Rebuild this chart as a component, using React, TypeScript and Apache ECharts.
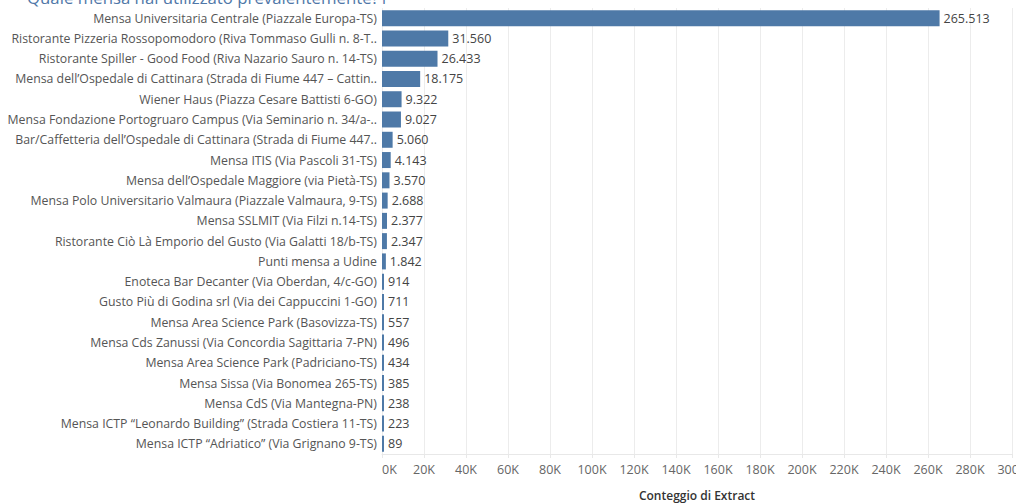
import React, { useEffect, useRef } from "react";
import * as echarts from "echarts";

const categories = [
  "Mensa Universitaria Centrale (Piazzale Europa-TS)",
  "Ristorante Pizzeria Rossopomodoro (Riva Tommaso Gulli n. 8-T..",
  "Ristorante Spiller - Good Food (Riva Nazario Sauro n. 14-TS)",
  "Mensa dell’Ospedale di Cattinara (Strada di Fiume 447 – Cattin..",
  "Wiener Haus (Piazza Cesare Battisti 6-GO)",
  "Mensa Fondazione Portogruaro Campus (Via Seminario n. 34/a-..",
  "Bar/Caffetteria dell’Ospedale di Cattinara (Strada di Fiume 447..",
  "Mensa ITIS (Via Pascoli 31-TS)",
  "Mensa dell’Ospedale Maggiore (via Pietà-TS)",
  "Mensa Polo Universitario Valmaura (Piazzale Valmaura, 9-TS)",
  "Mensa SSLMIT (Via Filzi n.14-TS)",
  "Ristorante Ciò Là Emporio del Gusto (Via Galatti 18/b-TS)",
  "Punti mensa a Udine",
  "Enoteca Bar Decanter (Via Oberdan, 4/c-GO)",
  "Gusto Più di Godina srl (Via dei Cappuccini 1-GO)",
  "Mensa Area Science Park (Basovizza-TS)",
  "Mensa Cds Zanussi (Via Concordia Sagittaria 7-PN)",
  "Mensa Area Science Park (Padriciano-TS)",
  "Mensa Sissa (Via Bonomea 265-TS)",
  "Mensa CdS (Via Mantegna-PN)",
  "Mensa ICTP “Leonardo Building” (Strada Costiera 11-TS)",
  "Mensa ICTP “Adriatico” (Via Grignano 9-TS)",
];

const counts = [
  265513, 31560, 26433, 18175, 9322, 9027, 5060, 4143, 3570, 2688, 2377, 2347,
  1842, 914, 711, 557, 496, 434, 385, 238, 223, 89,
];

const titleText = "Quale mensa hai utilizzato prevalentemente?1";
const axisTitle = "Conteggio di Extract";

const FONT = "Open Sans";

function fmtIt(n: number): string {
  return String(n).replace(/\B(?=(\d{3})+(?!\d))/g, ".");
}

export default function App() {
  const ref = useRef<HTMLDivElement>(null);
  useEffect(() => {
    if (!ref.current) return;
    const chart = echarts.init(ref.current, undefined, { renderer: "svg" });
    chart.setOption({
      animation: false,
      backgroundColor: "#ffffff",
      textStyle: { fontFamily: FONT },
      graphic: [
        {
          type: "text",
          left: 27,
          top: -11,
          style: {
            text: titleText,
            fill: "#4f77a8",
            font: `16.8px ${FONT}`,
          },
        },
      ],
      grid: {
        left: 382,
        top: 8,
        width: 630,
        height: 446,
        containLabel: false,
        outerBoundsMode: "none",
      },
      xAxis: {
        type: "value",
        min: 0,
        max: 300000,
        interval: 20000,
        axisLine: { show: true, lineStyle: { color: "#e8e8e8" } },
        axisTick: { show: true, length: 4, lineStyle: { color: "#e8e8e8" } },
        splitLine: { show: true, lineStyle: { color: "#ececec", width: 1 } },
        axisLabel: {
          formatter: (v: number) => `${v / 1000}K`,
          color: "#666666",
          fontSize: 12.5,
          fontFamily: FONT,
          margin: 9,
          alignMinLabel: "left",
        },
        name: axisTitle,
        nameLocation: "middle",
        nameGap: 35,
        nameTextStyle: {
          color: "#333333",
          fontSize: 12,
          fontWeight: 600,
          fontFamily: FONT,
        },
      },
      yAxis: {
        type: "category",
        data: categories,
        inverse: true,
        axisLine: { show: false },
        axisTick: { show: false },
        splitLine: { show: false },
        axisLabel: {
          color: "#555555",
          fontSize: 12.3,
          fontFamily: FONT,
          margin: 5,
        },
      },
      series: [
        {
          type: "bar",
          data: counts,
          barWidth: 16,
          barMinHeight: 2,
          itemStyle: { color: "#4e79a7" },
          label: {
            show: true,
            position: "right",
            distance: 4,
            color: "#444444",
            fontSize: 12.5,
            fontFamily: FONT,
            formatter: (p: any) => fmtIt(p.value),
          },
        },
      ],
    });
    return () => chart.dispose();
  }, []);
  return (
    <div
      ref={ref}
      style={{ position: "fixed", left: 0, top: 0, width: 1016, height: 504 }}
    />
  );
}
